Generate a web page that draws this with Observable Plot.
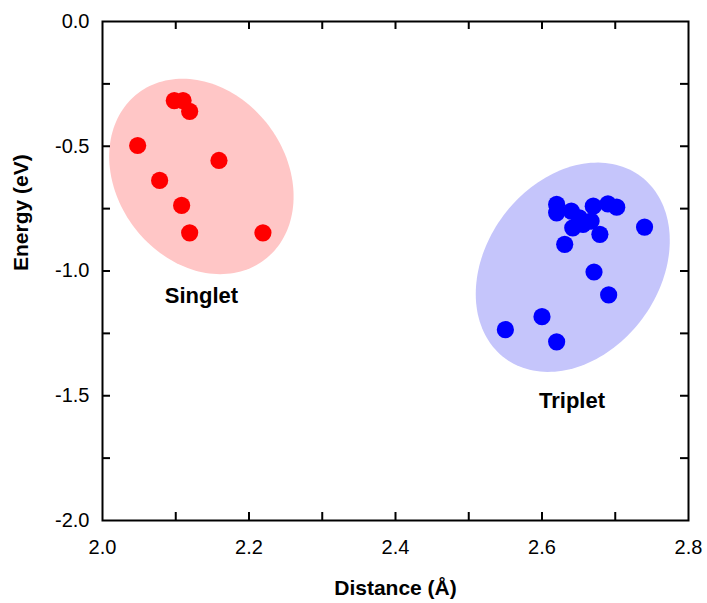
<!DOCTYPE html>
<html>
<head>
<meta charset="utf-8">
<script src="https://cdn.jsdelivr.net/npm/d3@7"></script>
<script src="https://cdn.jsdelivr.net/npm/@observablehq/plot@0.6"></script>
<style>
  html, body { margin: 0; padding: 0; background: #fff; }
  #chart svg { display: block; }
</style>
</head>
<body>
<div id="chart"></div>
<script>
// ---- data ----
const singletX = [2.098, 2.110, 2.119, 2.048, 2.159, 2.078, 2.108, 2.119, 2.219];
const singletY = [-0.317, -0.317, -0.360, -0.497, -0.557, -0.637, -0.737, -0.847, -0.847];

const tripletX = [2.620, 2.620, 2.640, 2.670, 2.690, 2.702, 2.651, 2.667, 2.656, 2.642, 2.679, 2.631, 2.740, 2.671, 2.691, 2.600, 2.550, 2.620];
const tripletY = [-0.733, -0.767, -0.760, -0.740, -0.731, -0.744, -0.787, -0.800, -0.813, -0.827, -0.853, -0.893, -0.824, -1.004, -1.096, -1.183, -1.235, -1.284];

const xTickLabels = [2.0, 2.2, 2.4, 2.6, 2.8];
const yTickLabels = [0.0, -0.5, -1.0, -1.5, -2.0];
const xTickMarks = [2.1, 2.2, 2.3, 2.4, 2.5, 2.6, 2.7];
const yTickMarks = [-0.25, -0.5, -0.75, -1.0, -1.25, -1.5, -1.75];

const groupNames = ["Singlet", "Triplet"];
const groupLabelX = [2.135, 2.641];
const groupLabelY = [-1.10, -1.52];

// cluster ellipses: centre (data units), semi-axes (px), tilt (deg, screen)
const ellipseCX = [2.135, 2.642];
const ellipseCY = [-0.621, -0.985];
const ellipseA = [104.6, 113.5];
const ellipseB = [84.3, 86.5];
const ellipseTilt = [52.9, -53.3];

// ---- layout ----
const W = 707, H = 603;
const mL = 102, mR = 19, mT = 21, mB = 83;
const xDomain = [2.0, 2.8], yDomain = [-2.0, 0.0];
const frameW = W - mL - mR, frameH = H - mT - mB;
const kx = frameW / (xDomain[1] - xDomain[0]);
const ky = frameH / (yDomain[1] - yDomain[0]);

function ellipsePoints(i) {
  const pts = [];
  const th = ellipseTilt[i] * Math.PI / 180;
  const n = 160;
  for (let s = 0; s < n; s++) {
    const t = 2 * Math.PI * s / n;
    const dx = ellipseA[i] * Math.cos(t) * Math.cos(th) - ellipseB[i] * Math.sin(t) * Math.sin(th);
    const dy = ellipseA[i] * Math.cos(t) * Math.sin(th) + ellipseB[i] * Math.sin(t) * Math.cos(th);
    pts.push({x: ellipseCX[i] + dx / kx, y: ellipseCY[i] - dy / ky});
  }
  return pts;
}

const singlet = singletX.map((x, i) => ({x, y: singletY[i]}));
const triplet = tripletX.map((x, i) => ({x, y: tripletY[i]}));

const TL = 8; // tick length
const font = "'Liberation Sans', Arial, Helvetica, sans-serif";

const chart = Plot.plot({
  width: W, height: H,
  marginLeft: mL, marginRight: mR, marginTop: mT, marginBottom: mB,
  style: {fontFamily: font, fontSize: "20px", color: "#000", background: "#fff"},
  x: {domain: xDomain},
  y: {domain: yDomain},
  marks: [
    Plot.line(ellipsePoints(0), {x: "x", y: "y", curve: "linear-closed", fill: "#ffc6c6", stroke: "none"}),
    Plot.line(ellipsePoints(1), {x: "x", y: "y", curve: "linear-closed", fill: "#c5c5fb", stroke: "none"}),
    Plot.dot(singlet, {x: "x", y: "y", r: 8.6, fill: "#ff0000", stroke: "none"}),
    Plot.dot(triplet, {x: "x", y: "y", r: 8.6, fill: "#0000ff", stroke: "none"}),
    Plot.text(groupNames, {x: (d, i) => groupLabelX[i], y: (d, i) => groupLabelY[i], text: d => d,
      fontSize: 22, fontWeight: "bold", fill: "#000"}),
    // inward ticks on all four sides
    Plot.tickX(xTickMarks, {x: d => d, insetTop: frameH - TL, stroke: "#000", strokeWidth: 2}),
    Plot.tickX(xTickMarks, {x: d => d, insetBottom: frameH - TL, stroke: "#000", strokeWidth: 2}),
    Plot.tickY(yTickMarks, {y: d => d, insetRight: frameW - TL, stroke: "#000", strokeWidth: 2}),
    Plot.tickY(yTickMarks, {y: d => d, insetLeft: frameW - TL, stroke: "#000", strokeWidth: 2}),
    Plot.frame({stroke: "#000", strokeWidth: 2}),
    Plot.axisX(xTickLabels, {tickSize: 0, tickPadding: 19, tickFormat: d => d.toFixed(1), label: null, fontSize: 20}),
    Plot.axisY(yTickLabels, {tickSize: 0, tickPadding: 13, tickFormat: d => d.toFixed(1), label: null, fontSize: 20}),
    Plot.text(["Distance (Å)"], {frameAnchor: "bottom", dy: 74, text: d => d, fontSize: 21, fontWeight: "bold", fill: "#000"}),
    Plot.text(["Energy (eV)"], {frameAnchor: "left", dx: -81, rotate: -90, text: d => d, fontSize: 21, fontWeight: "bold", fill: "#000"})
  ]
});
document.getElementById("chart").appendChild(chart);
</script>
</body>
</html>
